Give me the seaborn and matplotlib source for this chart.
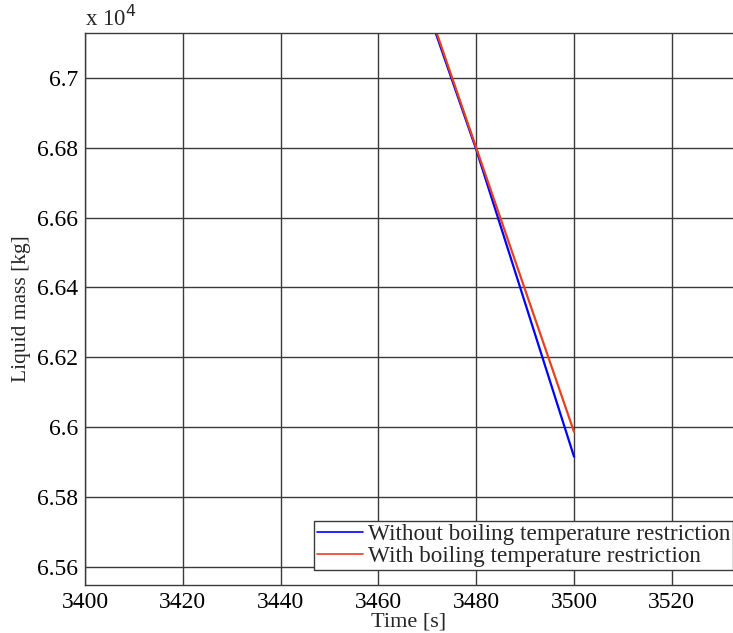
import matplotlib
matplotlib.use("Agg")
import matplotlib.pyplot as plt
import seaborn as sns
import pandas as pd
import numpy as np
from matplotlib.ticker import FuncFormatter
from matplotlib.lines import Line2D

# Data (kg)
time_s = [3460, 3470, 3480, 3490, 3500]
mass_without = [67600, 67198, 66795, 66355, 65915]
mass_with = [67614, 67207, 66800, 66393, 65986]
series_names = ["Without boiling temperature restriction",
                "With boiling temperature restriction"]
x_ticks = [3400, 3420, 3440, 3460, 3480, 3500, 3520]
y_ticks = [65600, 65800, 66000, 66200, 66400, 66600, 66800, 67000]

df = pd.DataFrame({
    "Time": time_s * 2,
    "Mass": mass_without + mass_with,
    "Series": [series_names[0]] * len(time_s) + [series_names[1]] * len(time_s),
})

sns.set_theme(style="white")
plt.rcParams["font.family"] = ["Liberation Serif", "DejaVu Serif"]

colors = {series_names[0]: "#0000ff", series_names[1]: "#e8401c"}

fig = plt.figure(figsize=(7.33, 6.33), dpi=100)
ax = fig.add_axes([85/733, 48/633, 1 - 85/733, (585-33)/633])

sns.lineplot(data=df, x="Time", y="Mass", hue="Series", palette=colors,
             linewidth=1.6, ax=ax, legend=False, sort=False)

ax.set_xlim(3400, 3532.5)
ax.set_ylim(65547.5, 67129)
ax.set_xticks(x_ticks)
ax.set_yticks(y_ticks)

def yfmt(v, pos):
    s = "%.2f" % (v / 1e4)
    s = s.rstrip("0").rstrip(".")
    return s

ax.yaxis.set_major_formatter(FuncFormatter(yfmt))
ax.grid(True, color="#3a3a3a", linewidth=1.0, linestyle="-")
ax.set_axisbelow(True)
for side in ["left", "bottom", "top"]:
    ax.spines[side].set_color("#3a3a3a")
    ax.spines[side].set_linewidth(1.0)
ax.spines["right"].set_visible(False)
ax.tick_params(axis="both", which="both", length=0, labelsize=17, colors="black", pad=5)

ax.set_xlabel("Time [s]", fontsize=16, labelpad=0)
ax.set_ylabel("Liquid mass [kg]", fontsize=15.5, labelpad=4)

ax.text(0.0, 1.003, r"x 10$^{4}$", transform=ax.transAxes, fontsize=16.5,
        ha="left", va="bottom")

handles = [Line2D([0], [0], color=colors[series_names[0]], lw=1.2),
           Line2D([0], [0], color=colors[series_names[1]], lw=1.2)]
leg = ax.legend(handles, series_names, loc="lower right", bbox_to_anchor=(1.0, 0.027),
                fontsize=16.7, frameon=True, fancybox=False, borderpad=0.12,
                handlelength=2.0, handletextpad=0.2, labelspacing=0.05,
                borderaxespad=0.0)
leg.get_frame().set_edgecolor("#3a3a3a")
leg.get_frame().set_linewidth(1.0)
leg.get_frame().set_alpha(1.0)

fig.savefig("out.png", dpi=100, facecolor="white")
